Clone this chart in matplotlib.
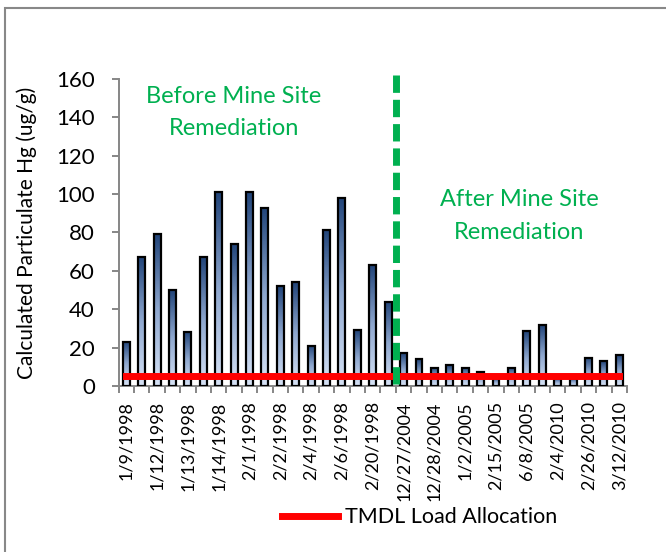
import numpy as np
import matplotlib as mpl
mpl.use('Agg')
import matplotlib.pyplot as plt
from matplotlib.colors import LinearSegmentedColormap
from matplotlib.lines import Line2D
from matplotlib.patches import Rectangle

plt.rcParams['font.family'] = ['Lato', 'DejaVu Sans']

dates = ['1/9/1998', '', '1/12/1998', '', '1/13/1998', '', '1/14/1998', '',
         '2/1/1998', '', '2/2/1998', '', '2/4/1998', '', '2/6/1998', '',
         '2/20/1998', '', '12/27/2004', '', '12/28/2004', '', '1/2/2005', '',
         '2/15/2005', '', '6/8/2005', '', '2/4/2010', '', '2/26/2010', '',
         '3/12/2010']
hg = [23, 67, 79, 50, 28, 67, 101, 74, 101, 93, 52, 54, 21, 81.5, 98, 29,
      63, 44, 17, 14, 9.6, 10.8, 9.6, 7.5, 4, 9.6, 28.5, 31.7, 4, 4,
      14.8, 12.9, 16]
tmdl = 5.4
split_at = 17.5

fig = plt.figure(figsize=(6.66, 5.52), dpi=100)
ax = fig.add_axes([0.178, 0.3007, 0.7634, 0.5563])

cmap = LinearSegmentedColormap.from_list('bar', ['#d6e2f5', '#8fa8cf', '#22457a'])
grad = np.linspace(1, 0, 100).reshape(-1, 1)
x = np.arange(len(hg))
w = 0.45
for xi, h in zip(x, hg):
    ax.imshow(grad, extent=(xi - w / 2, xi + w / 2, 0, h), aspect='auto',
              cmap=cmap, vmin=0, vmax=1, zorder=2)
ax.bar(x, hg, width=w, facecolor='none', edgecolor='black', linewidth=1.6, zorder=3)

ax.plot(x, [tmdl] * len(x), color='#ff0000', linewidth=5, zorder=4)
ax.plot([split_at, split_at], [162, 0], color='#00b050', linewidth=5,
        dashes=(2.5, 1.0), clip_on=False, zorder=5)

ax.text(7.0, 142.5, 'Before Mine Site\nRemediation', color='#00b050', fontsize=17,
        ha='center', va='center', linespacing=1.7)
ax.text(25.5, 88.5, 'After Mine Site\nRemediation', color='#00b050', fontsize=17,
        ha='center', va='center', linespacing=1.7)

ax.set_xlim(-0.5, len(hg) - 0.5)
ax.set_ylim(0, 160)
ax.set_yticks(np.arange(0, 161, 20))
ax.set_xticks(x[::2])
ax.set_xticklabels(dates[::2], rotation=90, fontsize=13)
ax.set_xticks(np.arange(-0.5, len(hg), 1), minor=True)
ax.tick_params(axis='x', which='major', length=0, pad=11)
ax.tick_params(axis='x', which='minor', length=5, width=1.4, color='#868686')
ax.tick_params(axis='y', length=5, width=1.4, color='#868686', labelsize=16, pad=12)
ax.set_ylabel('Calculated Particulate Hg (ug/g)', fontsize=15, labelpad=14)

for side in ['top', 'right']:
    ax.spines[side].set_visible(False)
for side in ['left', 'bottom']:
    ax.spines[side].set_color('#868686')
    ax.spines[side].set_linewidth(1.4)

handle = Line2D([], [], color='#ff0000', linewidth=5)
fig.legend(handles=[handle], labels=['TMDL Load Allocation'], loc='center',
           bbox_to_anchor=(0.63, 0.063), frameon=False, fontsize=15.5,
           handlelength=2.6, handletextpad=0.3)

fig.add_artist(Rectangle((5 / 666, -0.2), 1.3, 1.2 - 8 / 552,
                         transform=fig.transFigure, fill=False,
                         edgecolor='#888888', linewidth=1.5))

fig.savefig('out.png', dpi=100)
